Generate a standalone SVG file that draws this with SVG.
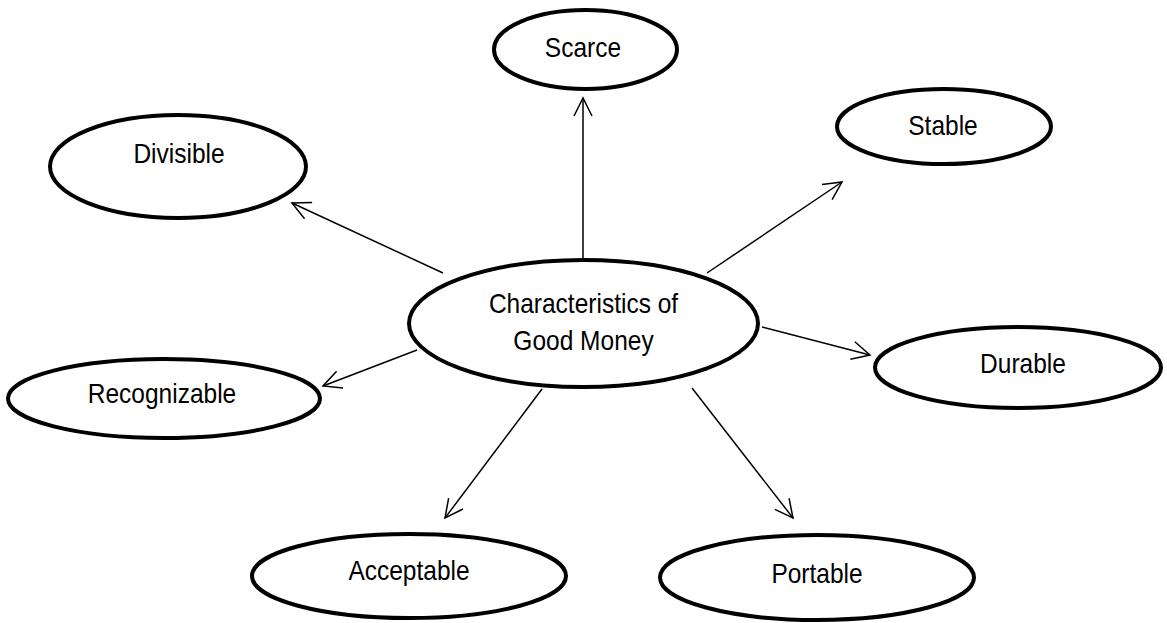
<svg xmlns="http://www.w3.org/2000/svg" width="1167" height="623" viewBox="0 0 1167 623">
<style>
.n{fill:#fff;stroke:#000;stroke-width:4}
.t{font-family:"Liberation Sans",Arial,sans-serif;font-size:24.5px;fill:#000;text-anchor:middle}
.c{stroke:#000;stroke-width:1.5;fill:none;marker-end:url(#ah)}
</style>
<defs>
<marker id="ah" markerUnits="userSpaceOnUse" markerWidth="24" markerHeight="24" viewBox="-20 -12 24 24" refX="0" refY="0" orient="auto" overflow="visible">
<path d="M-18,-9 L0,0 L-18,9" fill="none" stroke="#000" stroke-width="1.5"/>
</marker>
</defs>
<rect width="1167" height="623" fill="#fff"/>
<g id="connectors">
<line class="c" x1="583" y1="258" x2="583" y2="98"/>
<line class="c" x1="707" y1="273" x2="842" y2="182"/>
<line class="c" x1="443" y1="273" x2="292" y2="203"/>
<line class="c" x1="762" y1="327" x2="870" y2="355"/>
<line class="c" x1="417" y1="350" x2="323" y2="386"/>
<line class="c" x1="542" y1="389" x2="445" y2="518"/>
<line class="c" x1="692" y1="388" x2="793" y2="518"/>
</g>
<g id="center">
<ellipse class="n" cx="583.5" cy="323.5" rx="174.5" ry="63.5"/>
<text class="t" transform="translate(583.5,313) scale(1,1.1)">Characteristics of</text>
<text class="t" transform="translate(583.5,350) scale(1,1.1)">Good Money</text>
</g>
<g id="scarce">
<ellipse class="n" cx="585.5" cy="49.5" rx="91.5" ry="39.5"/>
<text class="t" transform="translate(583,57) scale(1,1.1)">Scarce</text>
</g>
<g id="stable">
<ellipse class="n" cx="944" cy="126.5" rx="107" ry="37.5"/>
<text class="t" transform="translate(943,135) scale(1,1.1)">Stable</text>
</g>
<g id="divisible">
<ellipse class="n" cx="178" cy="166.5" rx="128" ry="51.5"/>
<text class="t" transform="translate(179,163) scale(1,1.1)">Divisible</text>
</g>
<g id="recognizable">
<ellipse class="n" cx="164" cy="398.5" rx="156" ry="39.5"/>
<text class="t" transform="translate(162,403) scale(1,1.1)">Recognizable</text>
</g>
<g id="durable">
<ellipse class="n" cx="1018" cy="367.5" rx="143" ry="40.5"/>
<text class="t" transform="translate(1023,373) scale(1,1.1)">Durable</text>
</g>
<g id="acceptable">
<ellipse class="n" cx="409" cy="576" rx="157" ry="42"/>
<text class="t" transform="translate(409,580) scale(1,1.1)">Acceptable</text>
</g>
<g id="portable">
<ellipse class="n" cx="817" cy="577.5" rx="157" ry="42.5"/>
<text class="t" transform="translate(817,583) scale(1,1.1)">Portable</text>
</g>
</svg>
